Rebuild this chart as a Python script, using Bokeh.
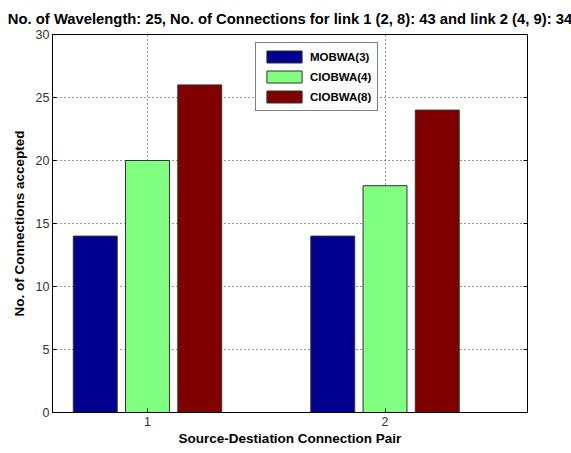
from bokeh.plotting import figure
from bokeh.models import ColumnDataSource, Range1d, LinearAxis, FixedTicker, Legend, LegendItem
from bokeh.transform import dodge
from bokeh.embed import file_html
from bokeh.resources import INLINE

pairs = [1, 2]
mobwa3 = [14, 14]
ciobwa4 = [20, 18]
ciobwa8 = [26, 24]
series_names = ["MOBWA(3)", "CIOBWA(4)", "CIOBWA(8)"]
colors = ["#00008F", "#80FF80", "#800000"]
y_ticks = [0, 5, 10, 15, 20, 25, 30]

src = ColumnDataSource(dict(x=pairs, a=mobwa3, b=ciobwa4, c=ciobwa8))

FONT = "Liberation Sans"
p = figure(width=571, height=453, output_backend="svg", toolbar_location=None,
           x_range=Range1d(0.6, 2.6), y_range=Range1d(0, 30),
           min_border_left=52, min_border_right=44, min_border_top=34, min_border_bottom=41)
p.title.text = "No. of Wavelength: 25, No. of Connections for link 1 (2, 8): 43 and link 2 (4, 9): 34"
p.title.align = "center"
p.title.text_font = FONT
p.title.text_font_style = "bold"
p.title.text_font_size = "14.8px"
p.title.text_color = "black"
p.title.offset = -5
p.title.standoff = 15

offs = [-0.22, 0.0, 0.22]
rs = []
for key, off, col in zip(["a", "b", "c"], offs, colors):
    r = p.vbar(x=dodge("x", off), top=key, width=0.185, source=src,
               fill_color=col, line_color="#333333", line_width=1)
    rs.append(r)

legend = Legend(items=[LegendItem(label=n, renderers=[r]) for n, r in zip(series_names, rs)],
                location=(203, 301))
legend.label_text_font = FONT
legend.label_text_font_style = "bold"
legend.label_text_font_size = "11.5px"
legend.label_text_color = "black"
legend.glyph_width = 44
legend.glyph_height = 15
legend.label_height = 15
legend.spacing = 5
legend.padding = 6
legend.margin = 0
legend.border_line_color = "black"
legend.border_line_width = 1
legend.label_standoff = 4
p.add_layout(legend, "center")

p.xaxis.ticker = FixedTicker(ticks=pairs)
p.yaxis.ticker = FixedTicker(ticks=y_ticks)
for ax in [p.xaxis[0], p.yaxis[0]]:
    ax.major_label_text_font = FONT
    ax.major_label_text_font_size = "12.5px"
    ax.major_label_text_color = "#333333"
    ax.axis_label_text_font = FONT
    ax.axis_label_text_font_style = "bold"
    ax.axis_label_text_font_size = "13.5px"
    ax.axis_label_text_color = "black"
    ax.major_tick_in = 4
    ax.major_tick_out = 0
    ax.minor_tick_line_color = None
    ax.axis_line_color = "black"
    ax.major_tick_line_color = "black"
p.xaxis.axis_label = "Source-Destiation Connection Pair"
p.yaxis.axis_label = "No. of Connections accepted"
p.xaxis.axis_label_standoff = 2
p.yaxis.axis_label_standoff = 6
p.xaxis.major_label_standoff = 4
p.yaxis.major_label_standoff = 3

right_ax = LinearAxis(ticker=FixedTicker(ticks=y_ticks),
                      major_label_overrides={t: "" for t in y_ticks},
                      major_tick_in=4, major_tick_out=0, minor_tick_line_color=None,
                      axis_line_color="black", major_tick_line_color="black")
p.add_layout(right_ax, "right")

for g in [p.xgrid[0], p.ygrid[0]]:
    g.grid_line_color = "black"
    g.grid_line_dash = "1 3"
    g.grid_line_width = 1
    g.grid_line_alpha = 0.8
p.outline_line_color = "black"
p.background_fill_color = "white"
p.border_fill_color = "white"

open("out.html", "w").write(file_html(p, INLINE))
